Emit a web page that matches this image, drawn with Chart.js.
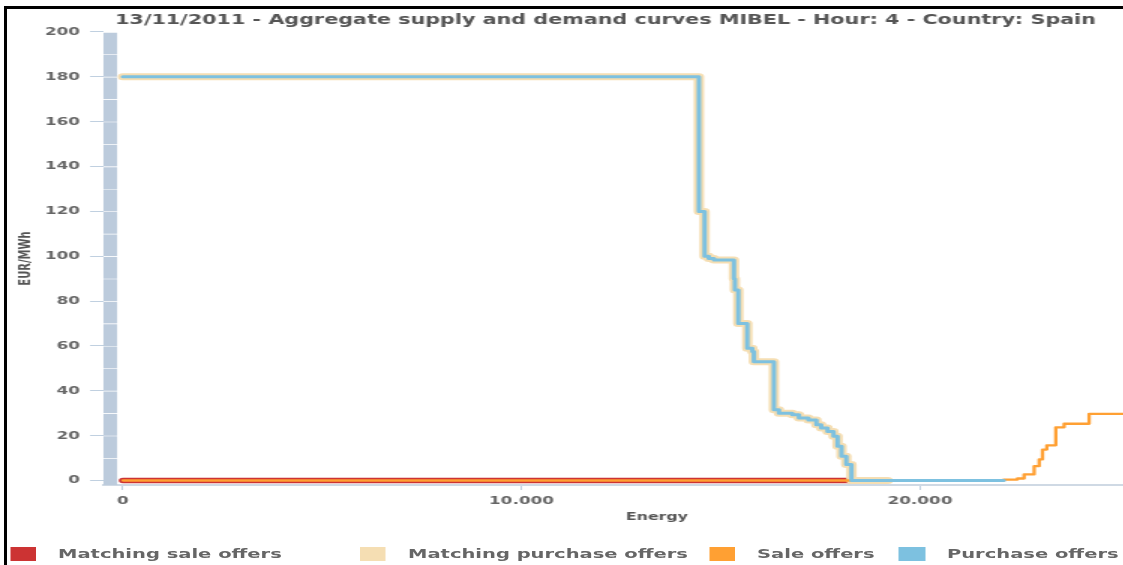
<!DOCTYPE html>
<html>
<head>
<meta charset="utf-8">
<script src="https://cdn.jsdelivr.net/npm/chart.js@4.4.1/dist/chart.umd.min.js"></script>
<style>
    html, body { margin: 0; padding: 0; background: #fff; overflow: hidden; width: 1123px; height: 565px; }
    #wrap { position: absolute; left: 0; top: 0; width: 809px; height: 565px; transform: scale(1.5, 1); transform-origin: 0 0; }
    #chart { position: absolute; left: 0; top: 0; }
    #frame { position: absolute; left: 4px; top: 6px; width: 1200px; height: 600px; border-top: 3px solid #000; border-left: 3px solid #000; z-index: 2; }
    .box { position: absolute; top: 547px; width: 17.3px; height: 14px; }
    .lbl { position: absolute; top: 546px; font: bold 13px "DejaVu Sans", Verdana, sans-serif; line-height: 15px; color: #666; white-space: nowrap; }
</style>
</head>
<body>
<div id="wrap">
    <canvas id="chart" width="809" height="530"></canvas>
    <div id="legend"></div>
</div>
<div id="frame"></div>
<script>
    var chartTitle = '13/11/2011 - Aggregate supply and demand curves MIBEL - Hour: 4 - Country: Spain';

    // MWh / EUR per MWh, each point = energy where the step happens and the new price
    var purchaseEnergy = [0, 14452, 14595, 14700, 14830, 15330, 15355, 15440, 15665, 15792, 15832, 16334, 16460, 16796, 16962, 17200, 17400, 17520, 17680, 17830, 17930, 18030, 18150, 18280, 22100];
    var purchasePrice  = [180, 120, 100, 99, 98.3, 90, 85, 70, 59, 57.5, 53, 31.6, 30, 29.3, 27.9, 27, 24.9, 23.4, 21.9, 19.7, 15.3, 10.8, 7.1, 0, 0];

    var matchedPurchaseEnergy = [0, 14452, 14595, 14700, 14830, 15330, 15355, 15440, 15665, 15792, 15832, 16334, 16460, 16796, 16962, 17200, 17400, 17520, 17680, 17830, 17930, 18030, 18150, 18280, 19190];
    var matchedPurchasePrice  = [180, 120, 100, 99, 98.3, 90, 85, 70, 59, 57.5, 53, 31.6, 30, 29.3, 27.9, 27, 24.9, 23.4, 21.9, 19.7, 15.3, 10.8, 7.1, 0, 0];

    var saleEnergy = [0, 22100, 22445, 22611, 22864, 22990, 23073, 23181, 23407, 23616, 24243, 27300];
    var salePrice  = [0, 0.4, 0.9, 2.7, 6.4, 9.4, 13.8, 15.7, 23.7, 25.3, 29.7, 29.7];

    var matchedSaleEnergy = [0, 18300];
    var matchedSalePrice  = [0, 0];

    // the shaded column along the price axis
    var columnEnergy = -320;
    var columnLow  = [-2, 10, 20, 30, 40, 50, 60, 70, 80, 90, 100, 110, 120, 130, 140, 150, 160, 170, 180, 190];
    var columnHigh = [10, 20, 30, 40, 50, 60, 70, 80, 90, 100, 110, 120, 130, 140, 150, 160, 170, 180, 190, 200];

    var xTicks = [0, 10000, 20000];
    var yTicks = [0, 20, 40, 60, 80, 100, 120, 140, 160, 180, 200];

    var legendItems = ['Matching sale offers', 'Matching purchase offers', 'Sale offers', 'Purchase offers'];
    var colors = {
        red: '#cc3333',
        tan: '#f5deb3',
        orange: '#ffa033',
        blue: '#7dc1e0',
        column: '#bccbdc'
    };

    function points(xs, ys) {
        return xs.map(function(x, i) { return {x: x, y: ys[i]}; });
    }

    function dotted(v) {
        return String(v).replace(/\B(?=(\d{3})+(?!\d))/g, '.');
    }

    var font = 'DejaVu Sans';

    var lineBase = {
        type: 'line',
        stepped: 'before',
        fill: false,
        pointRadius: 0,
        pointHoverRadius: 0,
        borderCapStyle: 'round',
        borderJoinStyle: 'round'
    };

    var config = {
        type: 'line',
        data: {
            datasets: [
                Object.assign({}, lineBase, {
                    label: legendItems[0],
                    data: points(matchedSaleEnergy, matchedSalePrice),
                    borderColor: colors.red,
                    backgroundColor: colors.red,
                    borderWidth: 5.5,
                    order: 4
                }),
                Object.assign({}, lineBase, {
                    label: legendItems[1],
                    data: points(matchedPurchaseEnergy, matchedPurchasePrice),
                    borderColor: colors.tan,
                    backgroundColor: colors.tan,
                    borderWidth: 7,
                    order: 3
                }),
                Object.assign({}, lineBase, {
                    label: legendItems[2],
                    data: points(saleEnergy, salePrice),
                    borderColor: colors.orange,
                    backgroundColor: colors.orange,
                    borderWidth: 2.3,
                    order: 2
                }),
                Object.assign({}, lineBase, {
                    label: legendItems[3],
                    data: points(purchaseEnergy, purchasePrice),
                    borderColor: colors.blue,
                    backgroundColor: colors.blue,
                    borderWidth: 3,
                    order: 1
                }),
                {
                    type: 'bar',
                    label: 'column',
                    data: columnLow.map(function(lo, i) { return {x: columnEnergy, y: [lo, columnHigh[i]]}; }),
                    backgroundColor: colors.column,
                    borderColor: '#ffffff',
                    borderWidth: {top: 1, right: 0, bottom: 0, left: 0},
                    borderSkipped: 'start',
                    barThickness: 9.3,
                    order: 5
                }
            ]
        },
        options: {
            responsive: false,
            animation: false,
            devicePixelRatio: 1,
            events: [],
            layout: { padding: {left: 0, right: 1.7, top: 0, bottom: 0} },
            plugins: {
                legend: { display: false },
                tooltip: { enabled: false },
                title: {
                    display: true,
                    text: chartTitle,
                    color: '#555',
                    font: { family: font, weight: 'bold', size: 13.8 },
                    padding: { top: 11.7, bottom: 3.7 }
                }
            },
            scales: {
                x: {
                    type: 'linear',
                    min: -500,
                    max: 27300,
                    offset: false,
                    grid: { display: true, offset: false, drawOnChartArea: false, drawTicks: true, tickLength: 5, tickColor: '#c0d0e0', tickWidth: 1 },
                    border: { display: true, color: '#cfd9e4', width: 2 },
                    ticks: {
                        color: '#666',
                        padding: 4,
                        maxRotation: 0,
                        font: { family: font, weight: 'bold', size: 11.2 },
                        callback: function(v) { return dotted(v); }
                    },
                    title: {
                        display: true,
                        text: 'Energy',
                        color: '#555',
                        font: { family: font, weight: 'bold', size: 10.5 },
                        padding: { top: 0, bottom: 6.7 }
                    },
                    afterBuildTicks: function(s) { s.ticks = xTicks.map(function(v) { return {value: v}; }); },
                    afterFit: function(s) { s.height = 45; }
                },
                y: {
                    type: 'linear',
                    min: -2,
                    max: 200,
                    grid: { display: true, drawOnChartArea: false, drawTicks: true, tickLength: 8.7, tickColor: '#c0d0e0', tickWidth: 1 },
                    border: { display: false },
                    ticks: {
                        color: '#666',
                        padding: 6.7,
                        font: { family: font, weight: 'bold', size: 11.2 }
                    },
                    title: {
                        display: true,
                        text: 'EUR/MWh',
                        color: '#555',
                        font: { family: font, weight: 'bold', size: 10 },
                        padding: { top: 11.7, bottom: 0 }
                    },
                    afterBuildTicks: function(s) { s.ticks = yTicks.map(function(v) { return {value: v}; }); },
                    afterFit: function(s) { s.width = 68.7; }
                }
            }
        }
    };

    var myChart = new Chart(document.getElementById('chart').getContext('2d'), config);

    // legend drawn as html, same spacing as the original
    var legend = document.getElementById('legend');
    var legendColors = [colors.red, colors.tan, colors.orange, colors.blue];
    var boxLeft = [6.7, 240, 472.7, 599.3];
    legendItems.forEach(function(name, i) {
        var box = document.createElement('div');
        box.className = 'box';
        box.style.left = boxLeft[i] + 'px';
        box.style.background = legendColors[i];
        legend.appendChild(box);
        var lbl = document.createElement('div');
        lbl.className = 'lbl';
        lbl.style.left = (boxLeft[i] + 32) + 'px';
        lbl.textContent = name;
        legend.appendChild(lbl);
    });
</script>
</body>
</html>
